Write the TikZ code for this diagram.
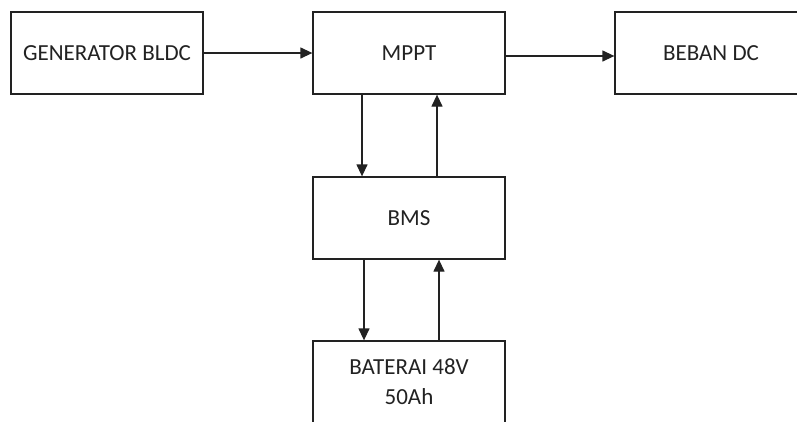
\documentclass[tikz,border=0pt]{standalone}
\usepackage{fontspec}
\setmainfont{Carlito}
\usetikzlibrary{arrows.meta}
\definecolor{ink}{HTML}{222222}
\begin{document}
\begin{tikzpicture}[x=1pt,y=-1pt,
  blk/.style={draw=ink,line width=1.3pt,minimum width=192pt,minimum height=82pt,inner sep=0pt,
    align=center,text=ink,font=\fontsize{23}{30}\selectfont},
  arr/.style={draw=ink,line width=1.3pt,-{Triangle[length=12pt,width=11pt]}}]
\clip (0,0) rectangle (797,421);
\useasboundingbox (0,0) rectangle (797,421);
\fill[white] (0,0) rectangle (797,421);
\node[blk] (gen) at (107,53) {GENERATOR BLDC};
\node[blk] (mppt) at (409,53) {MPPT};
\node[blk] (beban) at (711,53) {BEBAN DC};
\node[blk] (bms) at (409,218) {BMS};
\node[blk] (bat) at (409,382) {BATERAI 48V\\50Ah};
\draw[arr] (gen.east) -- (mppt.west);
\draw[arr] ([yshift=-3pt]mppt.east) -- ([yshift=-3pt]beban.west);
\draw[arr] ([xshift=-47pt]mppt.south) -- ([xshift=-47pt]bms.north);
\draw[arr] ([xshift=28pt]bms.north) -- ([xshift=28pt]mppt.south);
\draw[arr] ([xshift=-45pt]bms.south) -- ([xshift=-45pt]bat.north);
\draw[arr] ([xshift=30pt]bat.north) -- ([xshift=30pt]bms.south);
\end{tikzpicture}
\end{document}
